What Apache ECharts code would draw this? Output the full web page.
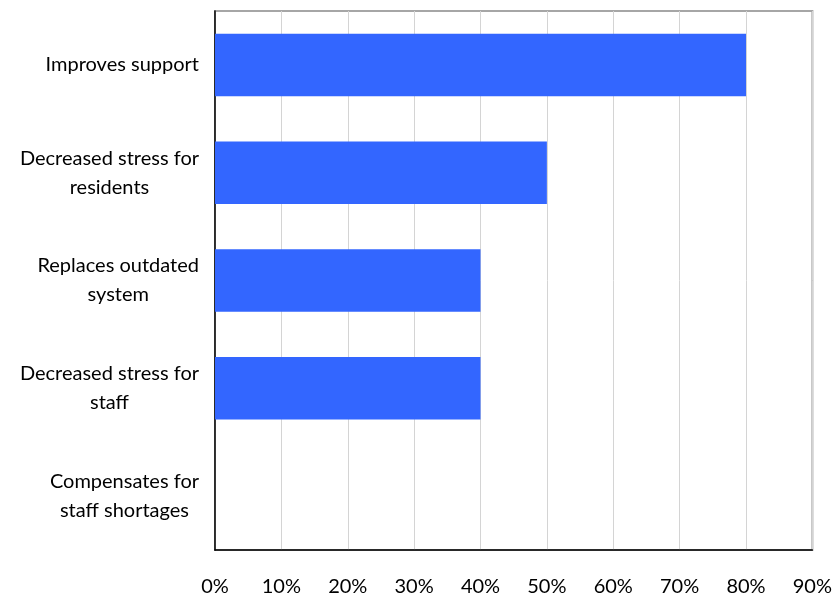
<!DOCTYPE html>
<html>
<head>
<meta charset="utf-8">
<style>
  html, body { margin: 0; padding: 0; background: #ffffff; }
  #chart { width: 835px; height: 599px; }
</style>
<script src="https://cdn.jsdelivr.net/npm/echarts@6/dist/echarts.min.js"></script>
</head>
<body>
<div id="chart"></div>
<script>
// Survey benefits (share of respondents)
const categories = [
  'Improves support',
  'Decreased stress for\nresidents',
  'Replaces outdated\nsystem',
  'Decreased stress for\nstaff',
  'Compensates for\nstaff shortages'
];
const values = [80, 50, 40, 40, 0];
const axisMax = 90;
const axisStep = 10;

const FONT = 'Lato, "Open Sans", sans-serif';
const FONT_SIZE = 20;

const chart = echarts.init(document.getElementById('chart'), null, { renderer: 'canvas' });

chart.setOption({
  animation: false,
  backgroundColor: '#ffffff',
  grid: {
    left: 215,
    right: 21,
    top: 11,
    bottom: 49,
    show: true,
    borderColor: '#a6a6a6',
    borderWidth: 2,
    backgroundColor: 'transparent'
  },
  xAxis: {
    type: 'value',
    min: 0,
    max: axisMax,
    interval: axisStep,
    axisLine: { show: true, lineStyle: { color: '#000000', width: 1.5 } },
    axisTick: { show: false },
    splitLine: { show: true, lineStyle: { color: '#d4d4d4', width: 1 } },
    axisLabel: {
      margin: 27,
      color: '#000000',
      fontFamily: FONT,
      fontSize: FONT_SIZE,
      formatter: v => v + '%'
    }
  },
  yAxis: {
    type: 'category',
    data: categories,
    inverse: true,
    axisLine: { show: true, lineStyle: { color: '#000000', width: 1.5 } },
    axisTick: { show: false },
    splitLine: { show: false },
    axisLabel: {
      margin: 16,
      color: '#000000',
      fontFamily: FONT,
      fontSize: FONT_SIZE,
      lineHeight: 29,
      align: 'right',
      formatter: v => v.split('\n').map(l => '{c|' + l + '}').join('\n'),
      rich: {
        c: {
          align: 'center',
          fontFamily: FONT,
          fontSize: FONT_SIZE,
          lineHeight: 29,
          color: '#000000'
        }
      }
    }
  },
  series: [{
    type: 'bar',
    data: values,
    barCategoryGap: '42%',
    itemStyle: { color: '#3366ff' },
    z: 1
  }]
});
</script>
</body>
</html>
